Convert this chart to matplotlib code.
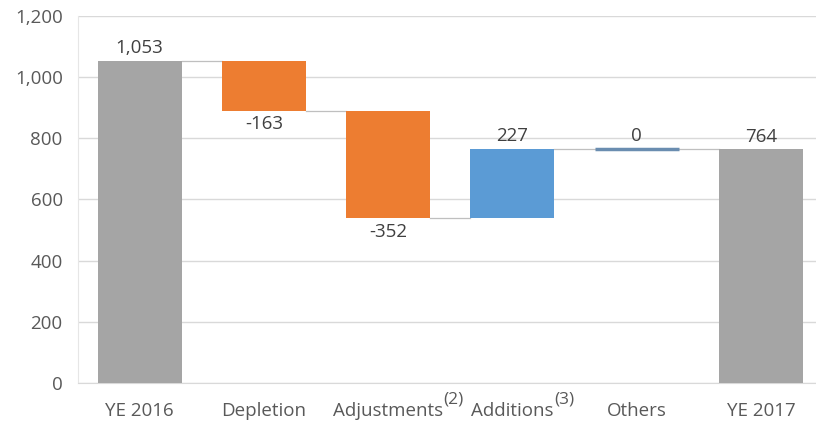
import matplotlib
matplotlib.use("Agg")
import matplotlib.pyplot as plt
import numpy as np

plt.rcParams['font.family'] = ['Open Sans', 'DejaVu Sans']

categories = ["YE 2016", "Depletion", "Adjustments", "Additions", "Others", "YE 2017"]
footnotes = ["", "", "(2)", "(3)", "", ""]
start_value = 1053
changes = [-163, -352, 227, 0]
end_value = 764
labels = ["1,053", "-163", "-352", "227", "0", "764"]
yticks = [0, 200, 400, 600, 800, 1000, 1200]

GRAY = "#A5A5A5"
ORANGE = "#ED7D31"
BLUE = "#5B9BD5"
TEXT = "#595959"
LABEL = "#404040"
FS = 13.5

fig = plt.figure(figsize=(8.16, 4.25), dpi=100)
ax = fig.add_axes([78/816, 42/425, 1 - 78/816, (383 - 15.7)/425])

width = 0.676
x = np.arange(len(categories))

bottoms = []
heights = []
colors = []
bottoms.append(0); heights.append(start_value); colors.append(GRAY)
level = start_value
levels = [level]
for c in changes:
    new = level + c
    bottoms.append(min(level, new))
    heights.append(abs(c))
    colors.append(ORANGE if c < 0 else BLUE)
    level = new
    levels.append(level)
bottoms.append(0); heights.append(end_value); colors.append(GRAY)

for i in range(len(categories)):
    if heights[i] == 0:
        ax.bar(x[i], 0.0001, width, bottom=bottoms[i], color=BLUE,
               edgecolor="#6A8DB0", linewidth=2.5, zorder=3)
    else:
        ax.bar(x[i], heights[i], width, bottom=bottoms[i], color=colors[i],
               zorder=3, linewidth=0)

# connectors
for i in range(len(categories) - 1):
    y = levels[i] if i < len(levels) else end_value
    ax.plot([x[i] + width/2, x[i+1] - width/2], [y, y], color="#BFBFBF",
            lw=0.9, zorder=2)

# data labels
for i in range(len(categories)):
    if i == 0 or i == len(categories) - 1:
        ax.annotate(labels[i], (x[i], heights[i]), xytext=(0, 2.5),
                    textcoords="offset points", ha="center", va="bottom",
                    fontsize=FS, color=LABEL)
    else:
        c = changes[i-1]
        if c < 0:
            ax.annotate(labels[i], (x[i], bottoms[i]), xytext=(0, -3.5),
                        textcoords="offset points", ha="center", va="top",
                        fontsize=FS, color=LABEL)
        else:
            ax.annotate(labels[i], (x[i], bottoms[i] + heights[i]), xytext=(0, 2.5),
                        textcoords="offset points", ha="center", va="bottom",
                        fontsize=FS, color=LABEL)

ax.set_xlim(-0.495, 5.443)
ax.set_ylim(0, 1200)
ax.set_yticks(yticks)
ax.set_yticklabels([f"{v:,}" for v in yticks])
ax.set_xticks(x)
ax.set_xticklabels(categories)
ax.tick_params(axis="both", length=0, colors=TEXT, labelsize=FS)
ax.tick_params(axis="x", pad=14)
ax.tick_params(axis="y", pad=11)
ax.grid(axis="y", color="#D9D9D9", lw=1, zorder=0)
ax.set_axisbelow(True)
for s in ["top", "right"]:
    ax.spines[s].set_visible(False)
ax.spines["bottom"].set_color("#D9D9D9")
ax.spines["left"].set_color("#E6E6E6")
ax.spines["left"].set_linewidth(0.8)

# superscript footnote markers next to tick labels
fig.canvas.draw()
renderer = fig.canvas.get_renderer()
for lab, note in zip(ax.get_xticklabels(), footnotes):
    if not note:
        continue
    bb = lab.get_window_extent(renderer)
    fig.text((bb.x1 + 0.5) / fig.bbox.width, (bb.y1 + 3) / fig.bbox.height, note,
             ha="left", va="center", fontsize=FS * 0.92, color=TEXT)

fig.savefig("out.png", dpi=100)
